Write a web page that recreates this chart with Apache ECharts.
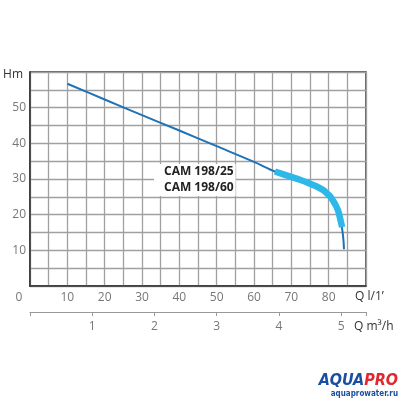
<!DOCTYPE html>
<html><head><meta charset="utf-8">
<script src="https://cdn.jsdelivr.net/npm/echarts@6/dist/echarts.min.js"></script>
<style>html,body{margin:0;padding:0;background:#fff}#c{width:400px;height:400px}</style>
</head><body><div id="c"></div>
<script>
// Q in l/min, H in m
const qCam25 = [10, 20, 30, 40, 50, 60, 65.6, 70, 72.3, 75, 76.8, 78.5, 79.5, 80.5, 81.3, 82, 82.6, 83.1, 83.5, 83.8, 84.0, 84.1];
const hCam25 = [56.7, 52.3, 47.9, 43.6, 39.2, 34.8, 32.1, 30.6, 29.8, 28.7, 27.9, 26.9, 26.0, 25.0, 23.7, 22.4, 20.9, 18.8, 16.7, 14.5, 12.3, 10.3];
const qCam60 = [65.6, 70, 72.3, 75, 76.8, 78.5, 79.5, 80.5, 81.3, 82, 82.6, 83.1, 83.6];
const hCam60 = [32.1, 30.6, 29.8, 28.7, 27.9, 26.9, 26.0, 25.0, 23.7, 22.4, 20.9, 18.8, 16.5];
const seriesNames = ['CAM 198/25', 'CAM 198/60'];
const qLpmRange = [0, 90];
const qM3hRange = [0, 5.4];
const hRange = [0, 60];

const font = 'Open Sans';
const chart = echarts.init(document.getElementById('c'));
chart.setOption({
  animation: false,
  textStyle: { fontFamily: font },
  grid: { left: 30, right: 34, top: 72, bottom: 114, show: true, borderColor: '#333', borderWidth: 1.5, containLabel: false },
  legend: {
    data: seriesNames, orient: 'vertical', left: 154, top: 164,
    itemWidth: 0, itemHeight: 0, itemGap: 4, selectedMode: false,
    backgroundColor: '#fff', padding: [2, 2, 2, 4],
    textStyle: { fontFamily: font, fontSize: 12, fontWeight: 'bold', color: '#222' }
  },
  xAxis: [{
    type: 'value', min: qLpmRange[0], max: qLpmRange[1], interval: 5,
    axisLine: { show: true, lineStyle: { color: '#333', width: 1.5 } },
    axisTick: { show: false },
    splitLine: { show: true, lineStyle: { color: '#a0a0a0', width: 1.3 } },
    axisLabel: {
      margin: 6, color: '#777', fontSize: 12,
      formatter: v => v === 0 ? '{z|0}' : (v % 10 === 0 && v < 90 ? String(v) : ''),
      rich: { z: { padding: [0, 22, 0, 0], color: '#777', fontSize: 12 } }
    },
    name: 'Q l/1\u2019', nameLocation: 'end', nameGap: -11,
    nameTextStyle: { color: '#333', fontSize: 12, align: 'left', verticalAlign: 'top', padding: [5, 0, 0, 0] }
  }, {
    type: 'value', position: 'bottom', offset: 26, min: qM3hRange[0], max: qM3hRange[1], interval: 1,
    axisLine: { show: true, lineStyle: { color: '#999', width: 1 } },
    axisTick: { show: true, length: 4, lineStyle: { color: '#999' } },
    splitLine: { show: false },
    axisLabel: { margin: 9, color: '#777', fontSize: 12, formatter: v => (v > 0 && Number.isInteger(v)) ? String(v) : '' },
    name: 'Q m\u00b3/h', nameLocation: 'end', nameGap: -12,
    nameTextStyle: { color: '#333', fontSize: 12, align: 'left', verticalAlign: 'top', padding: [9, 0, 0, 0] }
  }],
  yAxis: {
    type: 'value', min: hRange[0], max: hRange[1], interval: 5,
    axisLine: { show: true, lineStyle: { color: '#333', width: 1.5 } },
    axisTick: { show: false },
    splitLine: { show: true, lineStyle: { color: '#a0a0a0', width: 1.3 } },
    axisLabel: { margin: 4, color: '#777', fontSize: 12, formatter: v => (v % 10 === 0 && v > 0 && v < 60) ? String(v) : '' },
    name: 'Hm', nameLocation: 'end', nameGap: -3,
    nameTextStyle: { color: '#333', fontSize: 12, align: 'right', verticalAlign: 'middle', padding: [0, 7, 0, 0] }
  },
  series: [{
    name: seriesNames[0], type: 'line', xAxisIndex: 0, symbol: 'none', smooth: 0.3,
    lineStyle: { color: '#1f72b5', width: 2 }, itemStyle: { color: '#1f72b5' },
    data: qCam25.map((q, i) => [q, hCam25[i]]), z: 3
  }, {
    name: seriesNames[1], type: 'line', xAxisIndex: 0, symbol: 'none', smooth: 0.3,
    lineStyle: { color: '#2cb9ea', width: 6.5, cap: 'butt' }, itemStyle: { color: '#2cb9ea' },
    data: qCam60.map((q, i) => [q, hCam60[i]]), z: 4
  }],
  title: [{
    right: 2, bottom: 11, padding: 0,
    text: '{a|AQUA}{p|PRO}',
    textStyle: {
      rich: {
        a: { fontFamily: 'DejaVu Sans Condensed', fontWeight: 'bold', fontStyle: 'italic', fontSize: 16, color: '#1a4fa0' },
        p: { fontFamily: 'DejaVu Sans Condensed', fontWeight: 'bold', fontStyle: 'italic', fontSize: 16, color: '#e0282e' }
      }
    }
  }, {
    right: 2, bottom: 2, padding: 0,
    text: 'aquaprowater.ru',
    textStyle: { fontFamily: 'DejaVu Sans Condensed', fontWeight: 'bold', fontSize: 8, color: '#1a4fa0' }
  }]
});
</script></body></html>
